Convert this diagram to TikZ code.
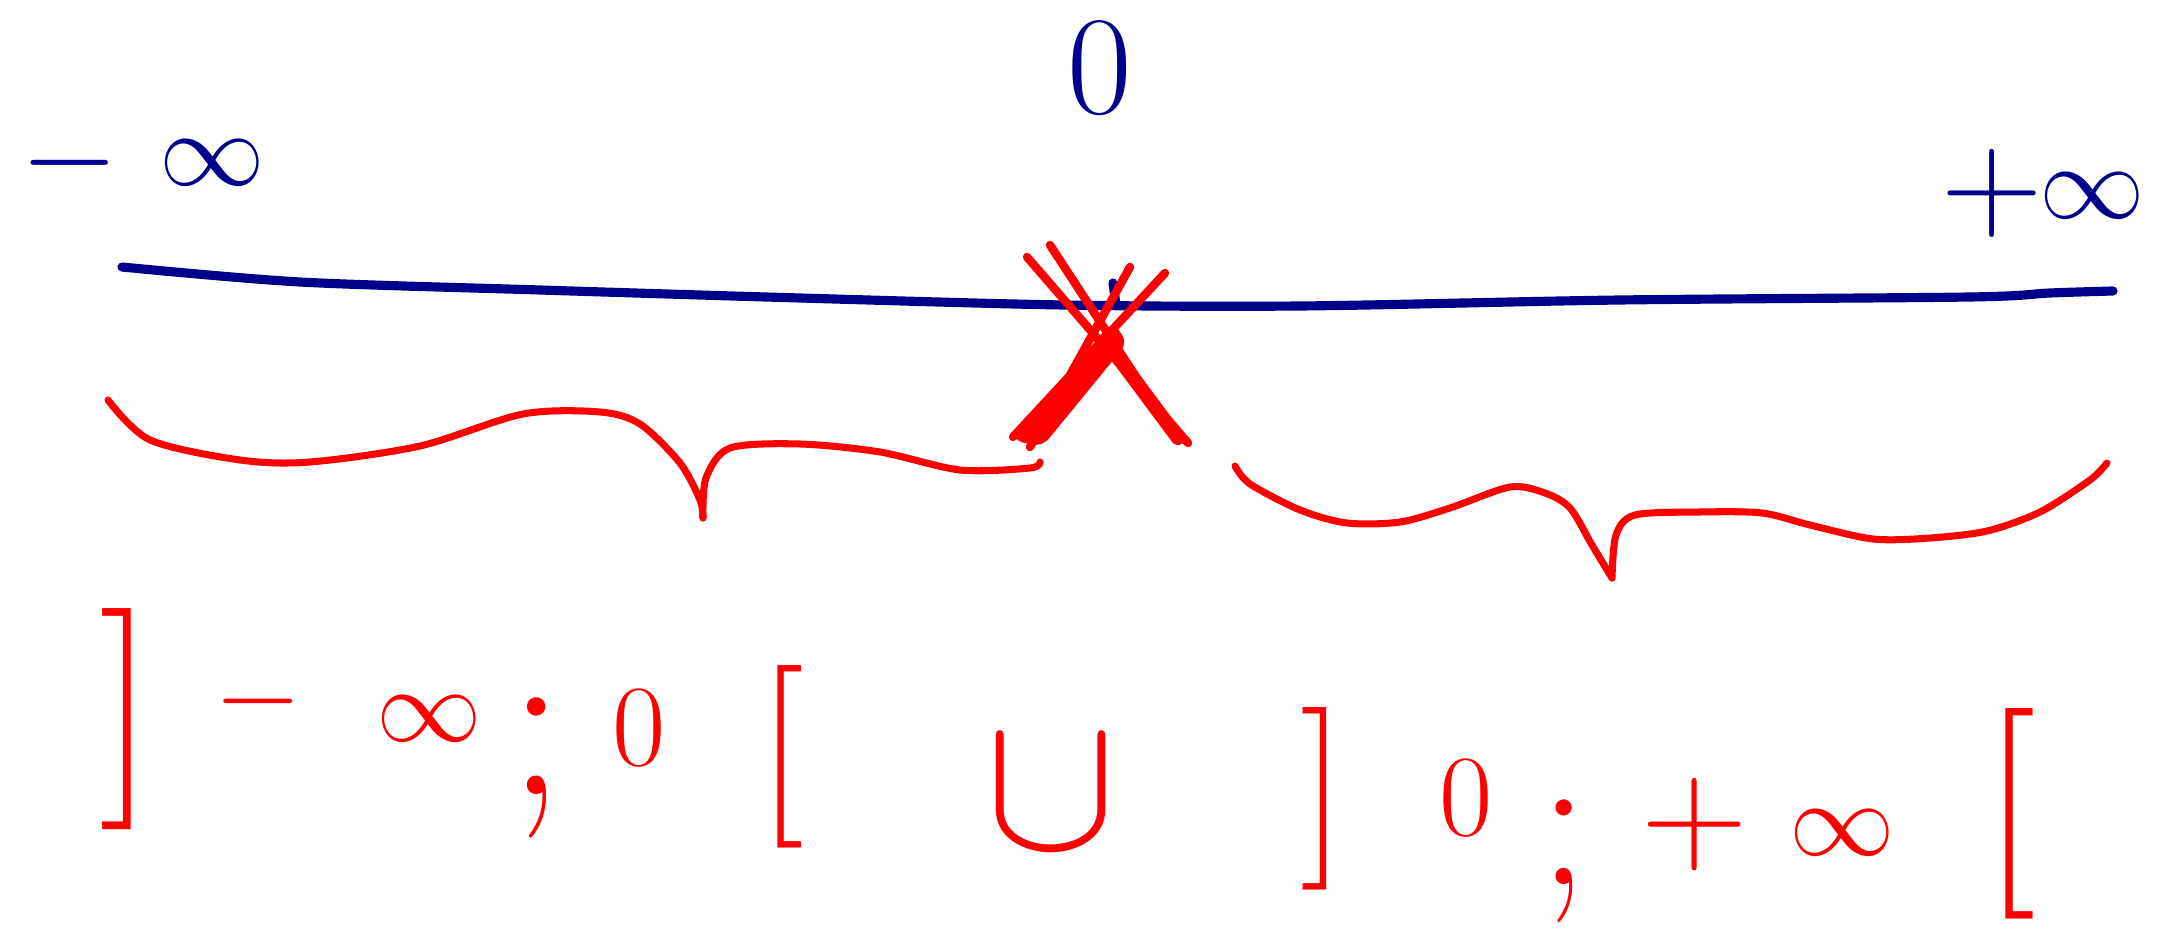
\RequirePackage{fix-cm}
\documentclass[tikz,border=0pt]{standalone}
\definecolor{inkblue}{RGB}{0,0,139}
\definecolor{inkred}{RGB}{255,0,0}
\newcommand{\gsz}[1]{\fontsize{#1}{#1}\selectfont}
\begin{document}
\begin{tikzpicture}[x=0.01cm,y=-0.01cm,
  glyph/.style={inner sep=0pt,outer sep=0pt},
  bluetxt/.style={glyph,text=inkblue},
  redtxt/.style={glyph,text=inkred},
  blueline/.style={draw=inkblue,line width=2.6pt,line cap=round,line join=round},
  redline/.style={draw=inkred,line width=2pt,line cap=round,line join=round},
  crossline/.style={draw=inkred,line width=2.4pt,line cap=round}]
\useasboundingbox[fill=white] (0,0) rectangle (2158,931);

% top labels
\node[bluetxt] (mneg) at (70,163) {\gsz{36}$-$};
\node[bluetxt] (minf) at (212,163) {\gsz{30}$\infty$};
\node[bluetxt] (zero) at (1100,68) {\gsz{40}0};
\node[bluetxt] (ppos) at (1992,193) {\gsz{40}$+$};
\node[bluetxt] (pinf) at (2092,196) {\gsz{30}$\infty$};

% number line
\coordinate (lstart) at (122,267);
\coordinate (lend) at (2113,291);
\draw[blueline] plot[smooth,tension=0.5] coordinates {(lstart) (300,282) (540,290) (800,298) (1063,305) (1300,306) (1620,300) (1970,297) (2050,293) (lend)};
\coordinate (tickt) at (1113,283);
\coordinate (tickb) at (1116,305);
\draw[blueline] (tickt) -- (tickb);

% red cross at 0
\coordinate (xa1) at (1027,257); \coordinate (xa2) at (1188,443);
\coordinate (xb1) at (1050,245); \coordinate (xb2) at (1172,432);
\coordinate (xc1) at (1165,273); \coordinate (xc2) at (1013,437);
\coordinate (xd1) at (1130,267); \coordinate (xd2) at (1030,447);
\coordinate (xm) at (1105,340);
\draw[crossline] (xa1) -- (xa2);
\draw[crossline] (xb1) -- (xb2);
\draw[crossline] (xc1) -- (xc2);
\draw[crossline] (xd1) -- (xd2);
\fill[inkred,rounded corners=3pt] (1112,322) -- (1128,342) -- (1042,447) -- (1012,440) -- cycle;
\draw[crossline,line width=4pt] (xm) -- (1178,438);

% left brace
\coordinate (lbl) at (108,400);
\coordinate (lbt) at (703,518);
\coordinate (lbr) at (1040,462);
\draw[redline] plot[smooth,tension=0.5] coordinates {(lbl) (150,440) (240,460) (310,462) (420,446) (523,414) (600,412) (640,424) (680,463) (700,500) (lbt)};
\draw[redline] plot[smooth,tension=0.5] coordinates {(lbt) (706,478) (730,448) (800,444) (880,452) (960,470) (1030,468) (lbr)};

% right brace
\coordinate (rbl) at (1235,466);
\coordinate (rbt) at (1612,578);
\coordinate (rbr) at (2107,463);
\draw[redline] plot[smooth,tension=0.5] coordinates {(rbl) (1250,484) (1300,510) (1347,523) (1400,522) (1450,508) (1510,487) (1545,493) (1570,508) (1592,545) (rbt)};
\draw[redline] plot[smooth,tension=0.5] coordinates {(rbt) (1616,535) (1635,515) (1700,512) (1762,513) (1810,525) (1873,539) (1930,538) (1987,531) (2040,512) (2090,480) (rbr)};

% bottom interval expression
\node[redtxt] (b1) at (127,719) {\gsz{63}]};
\node[redtxt] (b2) at (258,701) {\gsz{32}$-$};
\node[redtxt] (b3) at (429,719) {\gsz{30}$\infty$};
\node[redtxt] (b4) at (537,768) {\gsz{64};};
\node[redtxt] (b5) at (639,728) {\gsz{33}0};
\node[redtxt] (b6) at (781,757) {\gsz{52}[};
\node[redtxt] (b7) at (1051,794) {\gsz{56}$\cup$};
\node[redtxt] (b8) at (1323,799) {\gsz{52}]};
\node[redtxt] (b9) at (1466,798) {\gsz{33}0};
\node[redtxt] (b10) at (1564,861) {\gsz{56};};
\node[redtxt] (b11) at (1695,825) {\gsz{42}$+$};
\node[redtxt] (b12) at (1842,833) {\gsz{30}$\infty$};
\node[redtxt] (b13) at (2010,814) {\gsz{60}[};
\end{tikzpicture}
\end{document}
